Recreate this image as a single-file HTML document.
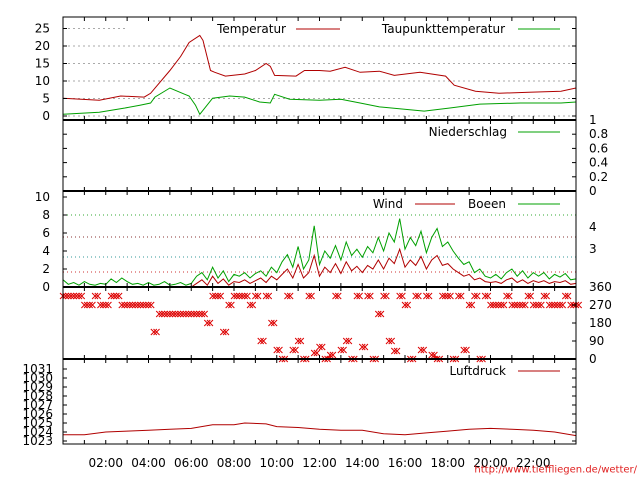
<!DOCTYPE html>
<html><head><meta charset="utf-8"><style>
html,body{margin:0;padding:0;background:#fff;}
svg{display:block;font-family:"DejaVu Sans","Liberation Sans",sans-serif;}
</style></head><body>
<svg id="c" width="640" height="480" viewBox="0 0 640 480"></svg>
<script>
const tempHours=[0,1.7,2.7,3.8,4.1,5,5.5,5.9,6.4,6.55,6.9,7.1,7.6,8.5,9,9.5,9.7,9.9,10.9,11.3,12,12.5,13.2,13.9,14.8,15.5,16.7,17.9,18.3,19.3,20.4,21.8,23.3,24];
const tempVals=[5.1,4.5,5.7,5.4,6.5,13,17,21,23,21.6,13,12.5,11.4,12,13,15,14.2,11.6,11.4,13,13,12.8,13.9,12.5,12.8,11.6,12.5,11.4,8.8,7.1,6.5,6.8,7.1,8];
const dewHours=[0,1.7,2.9,3.6,4.1,4.3,5,5.7,5.9,6.2,6.4,7,7.8,8.5,9.2,9.7,9.9,10.6,12,13,13.9,14.8,16.9,18.1,19.5,21.4,23.3,24];
const dewVals=[0.5,1.1,2.3,3.1,3.7,5.4,8,6.2,5.7,3.1,0.5,5.1,5.7,5.4,4,3.7,6.2,4.8,4.5,4.8,3.7,2.6,1.4,2.3,3.4,3.7,3.7,4];
const gustVals=[0.8,0.3,0.5,0.2,0.6,0.3,0.2,0.4,0.3,
0.9,0.5,1.0,0.6,0.3,0.4,0.2,0.5,
0.2,0.3,0.6,0.2,0.3,0.5,0.2,0.4,
1.2,1.6,0.8,2.2,1.0,1.8,0.6,1.4,
1.2,1.6,1.0,1.5,1.8,1.2,2.2,1.6,
2.8,3.6,2.2,4.5,2.0,3.0,6.8,2.5,
4.0,3.2,4.6,3.0,5.0,3.5,4.2,3.3,
4.5,3.8,5.5,4.0,6.0,5.0,7.6,4.2,
5.5,4.6,6.2,3.8,5.5,6.5,4.5,5.0,
4.0,3.2,2.5,2.8,1.6,2.0,1.2,1.0,
1.4,0.9,1.6,2.0,1.2,1.8,1.0,1.6,
1.2,1.6,0.9,1.4,1.1,1.5,0.8,0.9];
const windVals=[0,0,0,0,0,0,0,0,0,
0,0,0,0,0,0,0,0,
0,0,0,0,0,0,0,0,
0.4,0.8,0.2,1.2,0.4,0.9,0.2,0.6,
0.5,0.8,0.4,0.7,1.0,0.5,1.2,0.8,
1.4,2.0,1.0,2.5,1.0,1.6,3.5,1.2,
2.2,1.6,2.6,1.5,2.8,1.8,2.3,1.6,
2.4,2.0,3.0,2.0,3.2,2.6,4.2,2.2,
3.0,2.4,3.4,2.0,3.0,3.5,2.4,2.6,
2.0,1.6,1.2,1.4,0.8,1.0,0.6,0.5,
0.6,0.4,0.8,1.0,0.5,0.8,0.4,0.7,
0.5,0.7,0.4,0.6,0.5,0.7,0.3,0.4];
const dirVals=[315,315,315,315,270,270,315,270,270,
315,315,270,270,270,270,270,270,
135,225,225,225,225,225,225,225,
225,225,180,315,315,135,270,315,
315,315,270,315,90,315,180,45,
0,315,45,90,0,315,30,60,
0,20,315,45,90,0,315,60,
315,0,225,315,90,40,315,270,
0,315,45,315,20,0,315,315,
0,315,45,270,315,0,315,270,
270,270,315,270,270,270,315,270,
270,315,270,270,270,315,270,270];
const pressHours=[0,1,2,3,4,5,6,7,8,8.5,9.5,10,11,12,13,14,15,16,17,18,19,20,21,22,23,24];
const pressVals=[1023.7,1023.7,1024,1024.1,1024.2,1024.3,1024.4,1024.8,1024.8,1025,1024.9,1024.6,1024.5,1024.3,1024.2,1024.2,1023.8,1023.7,1023.9,1024.1,1024.3,1024.4,1024.3,1024.2,1024,1023.6];
const xTickLabels=["02:00","04:00","06:00","08:00","10:00","12:00","14:00","16:00","18:00","20:00","22:00"];
const tempTicks=[0,5,10,15,20,25];
const precipTicks=["0","0.2","0.4","0.6","0.8","1"];
const windTicks=[0,2,4,6,8,10];
const dirTicks=[0,90,180,270,360];
const pressTicks=[1023,1024,1025,1026,1027,1028,1029,1030,1031];

const svg=document.getElementById('c');
const NS='http://www.w3.org/2000/svg';
const X0=63,X1=576;
const xs=h=>X0+(X1-X0)*h/24;
const yT=v=>116-v*(116-28.5)/25;
const yP=v=>191-v*71;
const yW=v=>287-v*9;
const yD=v=>359-v*72/360;
const yPr=v=>441-(v-1023)*9;
function el(tag,attrs,name,text){
  const e=document.createElementNS(NS,tag);
  for(const k in attrs)e.setAttribute(k,attrs[k]);
  
  
  if(text!==undefined)e.textContent=text;
  svg.appendChild(e);return e;
}
function line(x1,y1,x2,y2,st,sw,name,dash){
  const a={x1,y1,x2,y2,stroke:st,'stroke-width':sw};
  if(dash)a['stroke-dasharray']=dash;
  return el('line',a,name);
}
function txt(x,y,s,anchor,name,size,fill){
  return el('text',{x,y,'font-size':size||12,'text-anchor':anchor||'start',fill:fill||'#000','dominant-baseline':'central'},name,s);
}
function poly(pts,color,name){
  el('polyline',{points:pts.map(p=>p[0].toFixed(1)+','+p[1].toFixed(1)).join(' '),fill:'none',stroke:color,'stroke-width':1},name);
}
tempTicks.slice(1,5).forEach(v=>line(X0,yT(v),X1,yT(v),'#aaa',1,'temp-grid-line','2,3'));
line(X0,yT(25),125,yT(25),'#aaa',1,'temp-grid-line','2,3');
line(X0,yT(0),X1,yT(0),'#aaa',1,'temp-grid-line','2,3');
line(X0,215,X1,215,'#3a3',1,'wind-grid-line','1,3');
line(X0,237,X1,237,'#833',1,'wind-grid-line','1,3');
line(X0,257,X1,257,'#399',1,'wind-grid-line','1,3');
line(X0,272,X1,272,'#c33',1,'wind-grid-line','1,3');
poly(tempHours.map((h,i)=>[xs(h),yT(tempVals[i])]),'#b00000','temperature-line');
poly(dewHours.map((h,i)=>[xs(h),yT(dewVals[i])]),'#00a000','dewpoint-line');
poly(gustVals.map((v,i)=>[xs(i*0.25),yW(v)]),'#00a000','gust-line');
poly(windVals.map((v,i)=>[xs(i*0.25),yW(v)]),'#b00000','wind-line');
poly(pressHours.map((h,i)=>[xs(h),yPr(pressVals[i])]),'#b00000','pressure-line');
dirVals.forEach((v,i)=>{
  const x=xs(i*0.25),y=yD(v);
  let d='';
  [0,2.7].forEach(o=>{const xx=x+o;d+=`M${xx-3},${y-3}L${xx+3},${y+3}M${xx-3},${y+3}L${xx+3},${y-3}`;});
  el('path',{d:d,stroke:'#d00',fill:'none','stroke-width':1},'wind-direction-marker');
});
el('rect',{x:X0,y:17,width:X1-X0,height:444-17,fill:'none',stroke:'#000','stroke-width':1},'plot-frame');
[120,191,287,359].forEach(y=>line(X0,y,X1,y,'#000',2,'panel-separator'));
const panels=[[17,120],[120,191],[191,287],[287,359],[359,444]];
for(let h=1;h<24;h++){
  const x=xs(h);
  panels.forEach(([a,b])=>{line(x,a,x,a+4,'#000',1,'x-tick');line(x,b,x,b-4,'#000',1,'x-tick');});
}
xTickLabels.forEach((s,i)=>txt(xs(2+2*i),463,s,'middle','x-tick-label'));
tempTicks.forEach(v=>{line(X0,yT(v),X0+4,yT(v),'#000',1,'y-tick');line(X1,yT(v),X1-4,yT(v),'#000',1,'y-tick');txt(50,yT(v),String(v),'end','temp-y-label');});
precipTicks.forEach((s,i)=>{const y=yP(i*0.2);line(X0,y,X0+4,y,'#000',1,'y-tick');line(X1,y,X1-4,y,'#000',1,'y-tick');txt(589,y,s,'start','precip-y-label');});
windTicks.forEach(v=>{line(X0,yW(v),X0+4,yW(v),'#000',1,'y-tick');txt(50,yW(v),String(v),'end','wind-y-label');});
txt(589,227,'4','start','beaufort-label');txt(589,249,'3','start','beaufort-label');
dirTicks.forEach(v=>{line(X1,yD(v),X1-4,yD(v),'#000',1,'y-tick');txt(589,yD(v),String(v),'start','direction-y-label');});
pressTicks.forEach(v=>{line(X0,yPr(v),X0+4,yPr(v),'#000',1,'y-tick');line(X1,yPr(v),X1-4,yPr(v),'#000',1,'y-tick');txt(53,yPr(v),String(v),'end','pressure-y-label');});
txt(286,29,'Temperatur','end','legend-temperature');line(296,29,340,29,'#b00000',1,'legend-temperature-line');
txt(505,29,'Taupunkttemperatur','end','legend-dewpoint');line(518,29,560,29,'#00a000',1,'legend-dewpoint-line');
txt(507,132,'Niederschlag','end','legend-precip');line(518,132,560,132,'#00a000',1,'legend-precip-line');
txt(403,204,'Wind','end','legend-wind');line(415,204,455,204,'#b00000',1,'legend-wind-line');
txt(506,204,'Boeen','end','legend-gust');line(518,204,560,204,'#00a000',1,'legend-gust-line');
txt(506,371,'Luftdruck','end','legend-pressure');line(518,371,560,371,'#b00000',1,'legend-pressure-line');
txt(637,470,'http://www.tieffliegen.de/wetter/','end','source-url',10,'#e02020');
</script>
</body></html>
